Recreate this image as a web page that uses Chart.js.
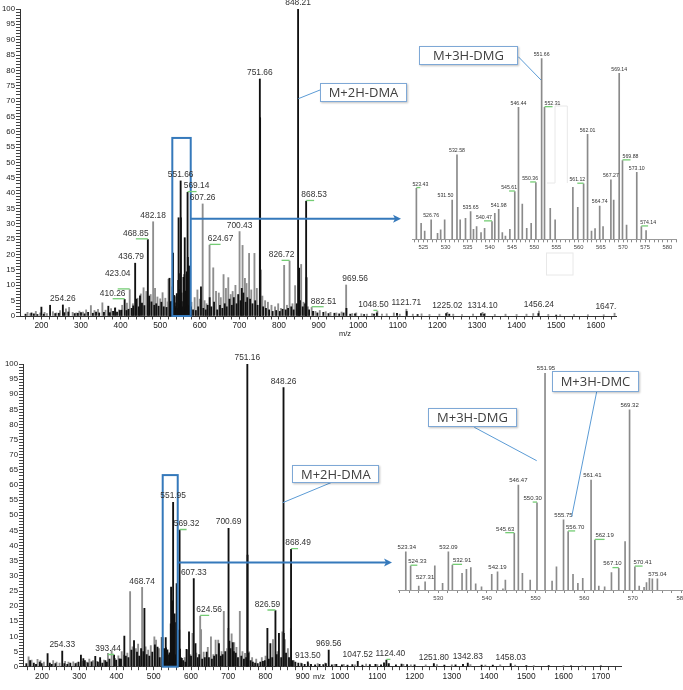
<!DOCTYPE html>
<html><head><meta charset="utf-8">
<script src="https://cdn.jsdelivr.net/npm/chart.js@4.4.1/dist/chart.umd.min.js"></script>
<style>
html,body{margin:0;padding:0;background:#fff;overflow:hidden;width:683px;height:690px;position:relative}
canvas{position:absolute;display:block}
svg{position:absolute;left:0;top:0}
.note{position:absolute;box-sizing:border-box;background:#fff;border:1.3px solid #7ea8d6;box-shadow:1px 1px 2px rgba(0,0,0,.25);font-family:"Open Sans",sans-serif;font-size:13px;color:#404040;display:flex;align-items:center;justify-content:center;white-space:nowrap}
</style></head><body>
<canvas id="topMain" width="683" height="340" style="left:0;top:0"></canvas>
<canvas id="botMain" width="683" height="350" style="left:0;top:340px"></canvas>
<canvas id="topInset" width="288" height="222" style="left:395px;top:40px"></canvas>
<canvas id="botInset" width="320" height="265" style="left:380px;top:350px"></canvas>
<svg width="683" height="690">
  <g fill="none" stroke="#e8e8e8" stroke-width="1">
    <path d="M547,183 L555,183 L555,106 L567.3,106 L567.3,183"/>
    <rect x="546.5" y="253" width="26.5" height="22"/>
  </g>
  <g stroke="#5b9bd5" stroke-width="1">
    <line x1="320" y1="90" x2="298.3" y2="98.7"/>
    <line x1="518.3" y1="56.7" x2="541" y2="80"/>
    <line x1="333.3" y1="481.7" x2="282.7" y2="502.7"/>
    <line x1="474.3" y1="427.3" x2="536.7" y2="460.7"/>
    <line x1="596.7" y1="391.7" x2="571.7" y2="516.7"/>
  </g>
</svg>
<div class="note" style="left:320px;top:83px;width:87px;height:18.5px">M+2H-DMA</div>
<div class="note" style="left:418.7px;top:45.7px;width:99.6px;height:19.5px">M+3H-DMG</div>
<div class="note" style="left:292.3px;top:465.3px;width:87px;height:17.5px">M+2H-DMA</div>
<div class="note" style="left:428.3px;top:407.7px;width:88.4px;height:19.6px">M+3H-DMG</div>
<div class="note" style="left:551.7px;top:370.7px;width:87.6px;height:21px">M+3H-DMC</div>
<script>
// ---------------- DATA (m/z, relative abundance %) ----------------
const topBlackPeaks = [
 [160,0.6],[175,1.0],[181,0.7],[190,0.5],[200,2.9],[206,0.6],[222,3.5],[235,0.8],[244,0.9],[254.26,3.6],[258,1.1],[268,1.3],
 [284,0.8],[292,0.9],[300,1.1],[309,0.7],[318,1.2],[330,0.9],[338,1.3],[346,1.0],[358,1.2],[369,3.2],[373,1.1],[381,1.5],
 [386,2.6],[391,1.3],[398,1.8],[402,1.9],[410.26,5.4],[415,1.8],[420,2.2],[428,2.5],[432,3.3],[436.79,17.2],[440,5.5],[446,3.0],
 [449,6.6],[454,4.2],[460,3.4],[468.85,24.9],[472,6.5],[478,4.6],[485,3.5],[490,4.0],[496,3.2],[503,4.5],[509,3.0],[516,2.8],
 [523.43,12.3],[524.5,3.9],[525.3,2.0],[526.76,4.7],[528.2,1.5],[528.9,2.3],[529.8,4.7],[531.5,9.5],[532.58,20.5],[533.3,4.7],
 [534.5,5.1],[535.65,6.7],[536.3,2.4],[537,3.1],[538,1.6],[538.8,2.6],[540.47,4.3],[541.1,6.3],[541.98,7.3],[542.8,1.6],
 [543.5,0.8],[544.5,2.4],[545.61,11.6],[546.44,32.0],[547.3,8.6],[548.3,2.6],[549.3,3.9],[550.36,13.8],[551.66,44.0],[552.31,32.0],
 [553.6,7.5],[554.7,4.7],[556,3.0],[557,2.5],[558.7,12.6],[559.8,7.8],[561.12,13.5],[562.01,25.5],[562.9,2.0],[563.7,2.6],
 [564.74,8.1],[565.5,3.1],[567.27,14.4],[567.9,9.5],[569.14,40.3],[569.88,19.1],[570.8,3.5],[573.1,16.3],[574.14,3.1],[575.2,2.1],
 [578,3.0],[583,2.0],[590,1.8],[596,3.0],[603,9.5],[609,2.5],[615,2.0],[620,3.5],[625,6.0],[629,3.0],[636,4.5],[644,2.0],
 [651,3.5],[657,2.5],[663,4.0],[668,3.0],[675,5.5],[681,3.5],[686,6.0],[693,4.0],[697,7.0],[703,5.0],[706,9.0],[710,7.5],
 [716,4.5],[720,6.0],[727,5.5],[733,4.0],[740,5.0],[746,3.5],[751.66,77.2],[752.3,64.6],[753.2,15.0],[760,3.0],[767,2.5],
 [775,2.0],[784,1.5],[793,1.8],[802,1.5],[809,2.2],[817,2.0],[823,2.5],[831,3.0],[837,2.0],[845,4.0],[848.21,100],[850.8,15.6],
 [853,5.0],[860,3.0],[866,4.0],[868.53,37.4],[869.5,12.5],[876,2.0],[886,1.5],[897,1.0],[912,1.2],[925,0.8],[940,0.9],[952,0.7],
 [963,1.0],[970.3,2.5],[980,0.6],[992,0.7],[1015,0.5],[1040,0.6],[1047,1.0],[1098,0.9],[1122.5,1.5],[1150,0.5],[1222,0.8],
 [1230,0.6],[1310,0.8],[1318,0.6],[1455,0.8],[1500,0.3]
];
const topGrayPeaks = [
 [165,1.2],[172,0.8],[186,1.5],[197,1.0],[208,1.2],[214,0.8],[229,1.4],[238,1.0],[247,1.8],[262,2.3],[270,2.8],[279,1.2],
 [288,1.0],[296,1.6],[305,1.3],[313,2.0],[325,3.4],[334,1.8],[343,2.2],[354,4.3],[362,1.9],[376,2.4],[386.5,2.7],[396,2.0],
 [404,3.5],[416,4.2],[423.04,8.6],[431,4.0],[443,5.8],[451,7.2],[458,9.2],[465,8.0],[476,7.0],[482.18,30.7],[487,9.0],[493,6.2],
 [500,5.6],[506,7.6],[513,5.8],[519,4.6],[521,12.0],[579,4.5],[587,6.0],[594,8.5],[600,5.5],[607.26,36.5],[612,5.0],[617,4.0],
 [624.67,23.1],[634,15.7],[641,8.0],[648,7.5],[653,6.0],[660,13.5],[666,9.0],[672,12.5],[678,7.0],[683,8.0],[690,10.0],
 [700.43,27.5],[708,23.0],[714,12.3],[718,10.6],[724.5,20.4],[730,8.5],[738,20.4],[744,9.0],[758,6.5],[765,5.0],[772,4.5],
 [781,3.5],[790,3.0],[798,4.0],[805,2.5],[813,16.5],[820,3.5],[826.72,17.9],[834,4.0],[840.7,9.9],[856,16.8],[862,4.5],[873,3.0],
 [882.51,2.8],[892,1.5],[903,1.8],[918,1.4],[930,1.2],[945,1.0],[958,1.3],[969.56,10.1],[985,0.8],[995,1.0],[1008,0.7],[1022,0.6],
 [1035,0.8],[1048.5,1.6],[1060,0.6],[1072,0.7],[1090,1.0],[1105,0.6],[1121.71,2.2],[1138,0.6],[1160,0.7],[1180,0.5],[1205,0.6],
 [1225.02,1.2],[1240,0.6],[1262,0.5],[1290,0.6],[1314.1,1.2],[1320,0.8],[1345,0.5],[1372,0.6],[1400,0.5],[1425,0.6],[1442,0.8],
 [1456.24,1.6],[1480,0.5],[1510,0.4],[1545,0.5],[1580,0.4],[1620,0.4],[1647.35,0.9]
];
const topLabelMz = [848.21,751.66,551.66,569.14,607.26,482.18,468.85,436.79,423.04,410.26,254.26,700.43,624.67,826.72,868.53,882.51,969.56,1048.50,1121.71,1225.02,1314.10,1456.24,1647.35];

const botBlackPeaks = [
 [158,1.0],[168,2.0],[178,1.2],[184,0.8],[194,1.5],[199,1.0],[215,4.3],[221,1.2],[226,0.8],[236,1.0],[254.33,5.2],[260,1.0],
 [268,0.8],[276,1.2],[290,1.0],[298,1.5],[304.5,3.8],[311,2.7],[315,2.0],[323,1.3],[333,1.6],[343,3.4],[350,1.5],[356,3.0],
 [362,1.2],[370,2.0],[374,1.5],[381,2.5],[393.44,3.8],[399,2.2],[408,2.6],[412,2.5],[421,10.1],[425,3.5],[432,3.0],[440,5.5],
 [447,8.6],[455,4.8],[461,3.5],[466,6.0],[472,5.0],[474.9,19.3],[481,4.0],[488,3.5],[496,4.8],[503,7.2],[510,6.5],[516,3.0],
 [523.34,9.6],[524.33,6.0],[526,1.0],[527.31,2.1],[529.3,6.0],[530.9,1.7],[532.09,9.6],[532.91,6.2],[534.9,4.2],[535.8,5.2],
 [536.7,5.6],[537.7,1.5],[538.9,0.8],[541,3.9],[542.19,4.6],[543.3,0.3],[543.8,2.5],[545.63,14.2],[546.47,26.3],[547.3,4.2],
 [548.9,2.5],[550.3,21.8],[551.95,54.3],[553.4,2.2],[554.3,5.8],[555.75,17.5],[556.7,14.6],[557.7,3.9],[558.7,1.7],[559.7,2.9],
 [561.41,27.5],[562.19,12.5],[563,1.0],[564.2,0.8],[565.6,4.3],[567.1,5.4],[568.4,12.1],[569.32,45.1],[570.41,5.8],[571.3,1.0],
 [572.3,0.7],[572.8,1.8],[573.4,2.9],[574,2.8],[575.04,2.8],
 [579,2.0],[585,1.5],[588,5.7],[594.6,11.5],[600,3.5],[607.33,29.1],[612,7.6],[618,3.0],[622,4.0],[630,2.5],[637,3.0],[642,4.8],
 [648,3.0],[656,2.5],[662,3.5],[668,4.0],[675,7.6],[680,3.5],[685,4.0],[692,5.0],[700.69,45.7],[703,8.5],[706,6.0],[712,8.0],
 [715,5.0],[720,4.5],[726,3.0],[735,3.5],[742,2.5],[748,3.0],[751.16,100],[751.8,36.9],[754,4.5],[760,2.0],[766,1.5],[772,1.2],
 [779,1.0],[786,1.5],[793,1.8],[798,2.0],[805,12.7],[809,2.5],[813,7.6],[818,3.0],[826.59,18.5],[830,4.0],[836,11.0],[842,3.0],
 [848.26,92.2],[849,11.0],[855,4.5],[863,3.0],[868.49,38.8],[873,2.0],[880,1.5],[888,1.2],[897,1.0],[905,0.8],[913.5,1.6],
 [922,0.8],[933,0.6],[945,0.8],[955,0.7],[962,1.0],[969.56,5.5],[978,0.6],[990,0.8],[1005,0.6],[1020,0.5],[1033,0.7],
 [1047.52,1.8],[1060,0.5],[1080,0.7],[1095,0.8],[1110,0.6],[1118,1.3],[1124.4,2.2],[1131,1.0],[1150,0.6],[1165,0.9],[1180,0.7],
 [1200,0.6],[1251.8,1.0],[1280,0.5],[1310,0.6],[1330,0.8],[1342.83,1.2],[1380,0.5],[1410,0.5],[1458.03,1.0],[1500,0.4],
 [1560,0.4],[1620,0.3],[1700,0.3]
];
const botGrayPeaks = [
 [164,3.3],[172,2.2],[188,2.4],[196,2.0],[205,1.5],[230,2.0],[239,1.5],[247,1.2],[262,1.8],[271,1.5],[284,1.6],[293,1.3],
 [310,1.8],[320,1.5],[327,2.5],[337,2.0],[348,1.8],[357,2.0],[366,2.2],[377,4.4],[387,5.3],[396,2.8],[405,3.6],[414,5.0],
 [420,3.8],[429,4.5],[436.5,24.8],[443,6.6],[452,6.0],[458,7.5],[468.74,26.2],[478,6.6],[485,5.5],[492,7.0],[501.6,9.9],
 [506,8.8],[514,6.0],[521,9.7],[527,4.0],[583,3.0],[590,5.5],[598,4.0],[604,11.0],[614,4.5],[624.56,16.7],[627,12.3],[634,4.8],
 [645,6.4],[653.5,9.9],[660,4.0],[666,8.8],[673,8.8],[682,5.0],[688,18.3],[697,6.0],[700,12.7],[709,10.9],[716,8.0],[722,6.4],
 [731,18.3],[738,5.0],[745,4.4],[756,4.9],[764,3.0],[775,2.5],[790,3.0],[800,3.5],[820,9.0],[832,5.0],[845,11.5],[852,9.0],
 [860,6.0],[868,12.6],[876,2.0],[895,1.2],[915,1.0],[940,1.0],[960,1.2],[985,0.8],[1010,0.8],[1040,0.6],[1070,0.9],[1100,0.7],
 [1125,1.0],[1170,0.8],[1190,0.6],[1230,0.6],[1260,0.7],[1300,0.6],[1350,0.7],[1390,0.5],[1430,0.6],[1470,0.5],[1520,0.4],
 [1600,0.4],[1650,0.3]
];
const botLabelMz = [751.16,848.26,551.95,569.32,700.69,868.49,607.33,468.74,624.56,826.59,254.33,393.44,913.50,969.56,1047.52,1124.40,1251.80,1342.83,1458.03];

const topInsetPeaks = [
 [523.43,28.2],[524.5,8.8],[525.3,4.6],[526.76,10.7],[528.2,3.3],[528.9,5.2],[529.8,10.7],[531.5,21.7],[532.58,46.6],[533.3,10.7],
 [534.5,11.6],[535.65,15.3],[536.3,5.5],[537,7.0],[538,3.7],[538.8,6.0],[540.47,9.8],[541.1,14.4],[541.98,16.6],[542.8,3.7],
 [543.5,1.8],[544.5,5.5],[545.61,26.3],[546.44,72.9],[547.3,19.5],[548.3,6.0],[549.3,8.8],[550.36,31.3],[551.66,100],[552.31,72.9],
 [553.6,17.1],[554.7,10.7],[558.7,28.7],[559.8,17.7],[561.12,30.6],[562.01,58.0],[562.9,4.6],[563.7,5.9],[564.74,18.4],[565.5,7.0],
 [567.27,32.8],[567.9,21.7],[569.14,91.7],[569.88,43.5],[570.8,7.9],[573.1,37.0],[574.14,7.0],[575.2,4.8]
];
const topInsetLabelMz = [523.43,526.76,531.50,532.58,535.65,540.47,541.98,545.61,546.44,550.36,551.66,552.31,561.12,562.01,564.74,567.27,569.14,569.88,573.10,574.14];

const botInsetPeaks = [
 [523.34,17.6],[524.33,11.1],[526,1.8],[527.31,3.8],[529.3,11.1],[530.9,3.1],[532.09,17.6],[532.91,11.5],[534.9,7.7],[535.8,9.5],
 [536.7,10.3],[537.7,2.8],[538.9,1.5],[541,7.2],[542.19,8.4],[543.3,0.5],[543.8,4.6],[545.63,26.1],[546.47,48.4],[547.3,7.7],
 [548.9,4.6],[550.3,40.2],[551.95,100],[553.4,4.1],[554.3,10.7],[555.75,32.3],[556.7,26.9],[557.7,7.2],[558.7,3.1],[559.7,5.4],
 [561.41,50.7],[562.19,23.0],[563,1.8],[564.2,1.5],[565.6,8.0],[567.1,10.0],[568.4,22.3],[569.32,83.0],[570.41,10.7],[571.3,1.8],
 [572.3,1.2],[572.8,3.4],[573.4,5.4],[574,5.2],[575.04,5.2]
];
const botInsetLabelMz = [523.34,524.33,527.31,532.09,532.91,542.19,545.63,546.47,550.30,551.95,555.75,556.70,561.41,562.19,567.10,569.32,570.41,575.04];

// ---------------- STYLE (label nudges in px: [dx, dy, greenMark]) ----------------
const topLabelNudge = {'569.14':[9,0,1],'468.85':[-12,0,1],'436.79':[-4,0,0],'423.04':[-12,-10,1],'410.26':[-12,0,1],
 '624.67':[11,0,1],'826.72':[-8,0,1],'868.53':[8,0,1],'882.51':[12,0,1],'969.56':[9,0,0],'1048.50':[-4,0,1],'1647.35':[-4,0,0]};
const botLabelNudge = {'569.32':[7,0,1],'868.49':[7,0,1],'624.56':[9,0,1],'826.59':[-8,0,1],'393.44':[-6,0,1],'1124.40':[4,0,1]};
const topInsetNudge = {'523.43':[4,0,1],'531.50':[-6.7,0,0],'540.47':[-8,0,1],'545.61':[-5.7,0,1],'550.36':[-5.7,0,1],
 '552.31':[8,0,1],'561.12':[-6.3,0,1],'569.88':[8,0,1],'574.14':[6.7,0,1]};
const botInsetNudge = {'523.34':[1,0,0],'524.33':[6.7,0,1],'532.91':[9.7,0,1],'545.63':[-9,0,1],'550.30':[-4.3,0,1],
 '551.95':[1,0,0],'556.70':[7,0,1],'561.41':[1.3,0,0],'562.19':[9.7,0,1],'567.10':[-6.3,0,1],'570.41':[7.7,0,1]};

const FONT = "'Liberation Sans', Arial, sans-serif";
function pts(a){ return a.map(p => ({x:p[0], y:p[1]})); }
function setTicks(step){
  return s => { const t=[]; const a=Math.ceil((s.min-1e-9)/step)*step;
    for(let v=a; v<=s.max+1e-9; v+=step) t.push({value:+v.toFixed(4)}); s.ticks=t; };
}
function labelPlugin(cfg){
  return { id:'peakLabels', afterDatasetsDraw(chart){
    const ctx=chart.ctx, xs=chart.scales.x, ys=chart.scales.y;
    ctx.save(); ctx.beginPath(); ctx.rect(0,0,chart.chartArea.right+cfg.clip,chart.height); ctx.clip();
    ctx.font=cfg.font; ctx.textAlign='center'; ctx.textBaseline='bottom';
    cfg.mz.forEach(m => {
      let v=0; chart.data.datasets.forEach(ds => ds.data.forEach(p => { if(Math.abs(p.x-m)<0.02 && p.y>v) v=p.y; }));
      const txt=m.toFixed(2), st=cfg.nudge[txt]||[0,0,0];
      const px=xs.getPixelForValue(m), py=ys.getPixelForValue(v);
      if(st[2]){ ctx.strokeStyle='#74cc74'; ctx.lineWidth=1.3; ctx.beginPath();
        ctx.moveTo(px,py-0.7); ctx.lineTo(px+st[0],py-0.7); ctx.stroke(); }
      ctx.fillStyle=cfg.color; ctx.fillText(txt, px+st[0], py-cfg.gap+st[1]);
    });
    ctx.restore();
  }};
}
function zoomBoxPlugin(b){
  return { id:'zoomBox', afterDatasetsDraw(chart){
    const ctx=chart.ctx, xs=chart.scales.x, ys=chart.scales.y;
    const x0=xs.getPixelForValue(b.from), x1=xs.getPixelForValue(b.to), y0=ys.getPixelForValue(b.top), yb=ys.getPixelForValue(0);
    const ya=ys.getPixelForValue(b.arrowAt);
    ctx.save(); ctx.strokeStyle=b.color; ctx.fillStyle=b.color; ctx.lineWidth=2;
    ctx.strokeRect(x0,y0,x1-x0,yb-y0);
    ctx.beginPath(); ctx.moveTo(x1,ya); ctx.lineTo(b.arrowEnd-6,ya); ctx.stroke();
    ctx.beginPath(); ctx.moveTo(b.arrowEnd,ya); ctx.lineTo(b.arrowEnd-8,ya-4); ctx.lineTo(b.arrowEnd-6,ya); ctx.lineTo(b.arrowEnd-8,ya+4); ctx.closePath(); ctx.fill();
    ctx.fillStyle='#222'; ctx.font='7.5px '+FONT; ctx.textAlign='center'; ctx.textBaseline='middle';
    ctx.fillText('m/z', b.titleX, b.titleY);
    ctx.restore();
  }};
}
function mainChart(id, black, gray, o, labels, box){
  return new Chart(document.getElementById(id), {
    type:'bar',
    data:{datasets:[
      {data:pts(black), backgroundColor:'#111', barThickness:1.2, grouped:false},
      {data:pts(gray), backgroundColor:'#8e8e8e', barThickness:1.2, grouped:false}
    ]},
    options:{
      responsive:false, animation:false, devicePixelRatio:1,
      layout:{padding:o.pad},
      plugins:{legend:{display:false}, tooltip:{enabled:false}},
      scales:{
        x:{type:'linear', min:o.xmin, max:o.xmax, offset:false,
          afterBuildTicks:setTicks(20), afterFit:s=>{s.height=o.xh;},
          grid:{display:true, offset:false, drawOnChartArea:false, drawTicks:true, tickLength:3.5, color:'#444'},
          border:{display:true, color:'#333', width:1},
          ticks:{autoSkip:false, maxRotation:0, padding:1, color:'#222', font:{family:FONT, size:8.4},
            callback:v => (Math.round(v)%100===0 ? String(Math.round(v)) : '')}},
        y:{type:'linear', min:0, max:100,
          afterBuildTicks:setTicks(1), afterFit:s=>{s.width=o.yw;},
          grid:{display:true, drawOnChartArea:false, drawTicks:true, tickLength:4, color:'#444'},
          border:{display:true, color:'#333', width:1},
          ticks:{autoSkip:false, padding:1, color:'#222', font:{family:FONT, size:7.8},
            callback:v => (Math.round(v)%5===0 ? String(Math.round(v)) : '')}}
      }
    },
    plugins:[zoomBoxPlugin(box), labelPlugin(labels)]
  });
}
function insetChart(id, peaks, o, labels){
  return new Chart(document.getElementById(id), {
    type:'bar',
    data:{datasets:[{data:pts(peaks), backgroundColor:'#8a8a8a', barThickness:1, grouped:false}]},
    options:{
      responsive:false, animation:false, devicePixelRatio:1,
      layout:{padding:o.pad},
      plugins:{legend:{display:false}, tooltip:{enabled:false}},
      scales:{
        x:{type:'linear', min:o.xmin, max:o.xmax, offset:false,
          afterBuildTicks:setTicks(o.minor), afterFit:s=>{s.height=o.xh;},
          grid:{display:true, offset:false, drawOnChartArea:false, drawTicks:true, tickLength:3, color:'#8a8a8a'},
          border:{display:true, color:'#999', width:1},
          ticks:{autoSkip:false, maxRotation:0, padding:1.5, color:'#444', font:{family:FONT, size:o.tickFont},
            callback:v => (Math.round(v)%o.major===0 ? String(Math.round(v)) : '')}},
        y:{display:false, min:0, max:100}
      }
    },
    plugins:[labelPlugin(labels)]
  });
}

mainChart('topMain', topBlackPeaks, topGrayPeaks,
  {xmin:146, xmax:1651, xh:24, yw:20, pad:{left:0, right:67, top:9, bottom:0}},
  {mz:topLabelMz, nudge:topLabelNudge, font:'8.4px '+FONT, color:'#333', gap:2, clip:1},
  {from:530.6, to:577.1, top:58, arrowAt:31.7, arrowEnd:401, color:'#3579bb', titleX:345, titleY:334});
mainChart('botMain', botBlackPeaks, botGrayPeaks,
  {xmin:149, xmax:1756, xh:23.3, yw:23, pad:{left:0, right:61.3, top:24, bottom:0}},
  {mz:botLabelMz, nudge:botLabelNudge, font:'8.4px '+FONT, color:'#333', gap:2, clip:60},
  {from:524, to:564.3, top:63.3, arrowAt:34.4, arrowEnd:392, color:'#3579bb', titleX:319, titleY:337});
insetChart('topInset', topInsetPeaks,
  {xmin:522.6, xmax:582.1, xh:22.7, minor:1, major:5, tickFont:5.8, pad:{left:17.7, right:6.3, top:18.3, bottom:0}},
  {mz:topInsetLabelMz, nudge:topInsetNudge, font:'5.2px '+FONT, color:'#333', gap:1.5, clip:20});
insetChart('botInset', botInsetPeaks,
  {xmin:521.8, xmax:580.3, xh:25, minor:2, major:10, tickFont:6, pad:{left:18.3, right:17, top:23, bottom:0}},
  {mz:botInsetLabelMz, nudge:botInsetNudge, font:'6px '+FONT, color:'#333', gap:1.5, clip:20});
</script>
</body></html>
